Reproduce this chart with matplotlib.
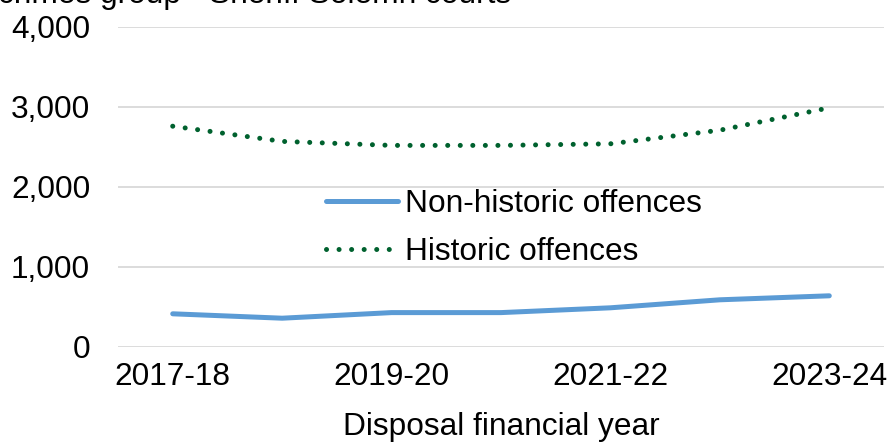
import matplotlib
matplotlib.use('Agg')
import matplotlib.pyplot as plt
import numpy as np

plt.rcParams['font.family'] = ['Liberation Sans', 'DejaVu Sans']

# ==================== data ====================
years = ['2017-18', '2018-19', '2019-20', '2020-21', '2021-22', '2022-23', '2023-24']
non_historic = [415, 360, 430, 430, 490, 590, 640]
historic = [2760, 2570, 2520, 2520, 2540, 2710, 2990]

blue = '#5B9BD5'
green = '#00612E'
grid_col = '#D9D9D9'
fs = 22.8

W, H = 889, 443
fig = plt.figure(figsize=(W / 100, H / 100), dpi=100)
ax = fig.add_axes([118 / W, 1 - 347 / H, (884 - 118) / W, (347 - 27) / H])

x = np.arange(len(years))
ax.plot(x, non_historic, color=blue, lw=3.6, solid_capstyle='round',
        label='Non-historic offences', zorder=3)
ax.plot(x, historic, color=green, lw=3.6, linestyle=(0, (0.01, 2.5)),
        dash_capstyle='round', label='Historic offences', zorder=3)

ax.set_xlim(-0.5, len(years) - 0.5)
ax.set_ylim(0, 4000)
ax.set_yticks(np.arange(0, 4001, 1000))
ax.set_yticklabels([f'{v:,}' for v in range(0, 4001, 1000)])
ax.set_xticks(x[::2])
ax.set_xticklabels(years[::2])
ax.tick_params(axis='y', length=0, pad=20, labelsize=fs)
ax.tick_params(axis='x', length=0, pad=11, labelsize=fs)

ax.grid(axis='y', color=grid_col, lw=1.3)
ax.set_axisbelow(True)
for s in ax.spines.values():
    s.set_visible(False)

# axis title and the tail of the chart heading
fig.text(501 / W, 8 / H, 'Disposal financial year', ha='center', va='baseline', fontsize=fs)
fig.text(-2 / W, 1 - 3.5 / H, 'crimes group - Sheriff Solemn courts', ha='left',
         va='baseline', fontsize=fs)

leg = ax.legend(loc='upper left', bbox_to_anchor=(326 / W, 1 - 189 / H),
                bbox_transform=fig.transFigure, frameon=False, fontsize=fs,
                handlelength=2.27, handletextpad=0.22, labelspacing=0.56,
                borderpad=0, borderaxespad=0)

fig.savefig('out.png', dpi=100, facecolor='white')
